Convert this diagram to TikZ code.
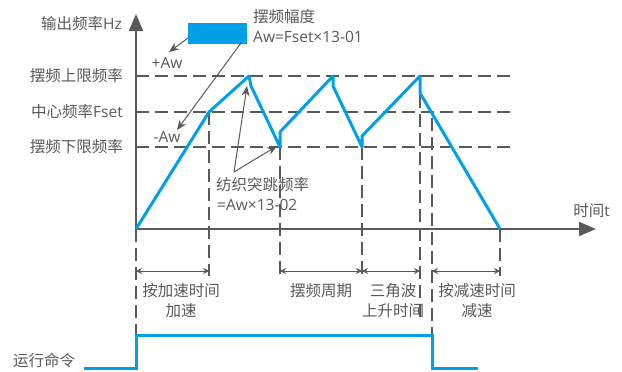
\documentclass[tikz,border=0pt]{standalone}
\usepackage{fontspec}
\setmainfont{Noto Sans CJK SC}
\newfontfamily\lat{Open Sans}
\usetikzlibrary{arrows.meta}
\definecolor{gr}{HTML}{595959}
\definecolor{bl}{HTML}{00A0E9}
\begin{document}
\begin{tikzpicture}[x=1pt,y=-1pt,
  every node/.style={font=\fontsize{15.5}{18}\selectfont, text=gr, inner sep=0pt},
  grid/.style={draw=gr, line width=2pt, dash pattern=on 13pt off 6pt},
  wave/.style={draw=bl, line width=3pt, line join=round},
  axis/.style={draw=gr, line width=2pt, -{Triangle[length=17pt,width=14pt]}},
  ptr/.style={draw=gr, line width=1pt, -{Stealth[length=10pt,width=8pt]}},
  dim/.style={draw=gr, line width=1pt, {Stealth[length=6pt,width=6pt]}-{Stealth[length=6pt,width=6pt]}},
]
\useasboundingbox (0,0) rectangle (622,372);

% grid lines
\coordinate (hu0) at (136,76);  \coordinate (hu1) at (510,76);
\coordinate (hc0) at (136,112); \coordinate (hc1) at (510,112);
\coordinate (hl0) at (136,147); \coordinate (hl1) at (510,147);
\draw[grid] (hu0) -- (hu1);
\draw[grid] (hc0) -- (hc1);
\draw[grid] (hl0) -- (hl1);

\coordinate (v0a) at (136,229); \coordinate (v0b) at (136,335);
\coordinate (v1a) at (209,112); \coordinate (v1b) at (209,276);
\coordinate (v2a) at (280,147); \coordinate (v2b) at (280,276);
\coordinate (v3a) at (362,147); \coordinate (v3b) at (362,276);
\coordinate (v4a) at (420,76);  \coordinate (v4b) at (420,320);
\coordinate (v5a) at (432,118); \coordinate (v5b) at (432,368);
\coordinate (v6a) at (500,229); \coordinate (v6b) at (500,276);
\foreach \i in {0,...,6} {\draw[grid] (v\i a) -- (v\i b);}

% axes
\coordinate (O) at (136,229);
\coordinate (Ytop) at (136,14);
\coordinate (Xend) at (596,229);
\draw[axis] (O) -- (Ytop);
\draw[axis] (O) -- (Xend);
\node[anchor=east] (ylab) at (122,24) {输出频率{\lat Hz}};
\node[anchor=east] (xlab) at (610,211) {时间{\lat t}};

% level labels
\node[anchor=east] (lup) at (123,76) {摆频上限频率};
\node[anchor=east] (lmid) at (123,112) {中心频率{\lat Fset}};
\node[anchor=east] (llow) at (123,147) {摆频下限频率};

% waveform
\coordinate (p1) at (209,112);
\coordinate (p2) at (249,76);
\coordinate (p3) at (251,86);
\coordinate (p4) at (280,147);
\coordinate (p5) at (280,132);
\coordinate (p6) at (333,76);
\coordinate (p7) at (333,86);
\coordinate (p8) at (362,147);
\coordinate (p9) at (362,136);
\coordinate (p10) at (420,76);
\coordinate (p11) at (420,93);
\coordinate (p12) at (500,229);
\draw[wave] (O) -- (p1) -- (p2) -- (p3) -- (p4) -- (p5) -- (p6) -- (p7) -- (p8) -- (p9) -- (p10) -- (p11) -- (p12);

% amplitude box
\fill[bl] (188,23) rectangle (247,44);
\coordinate (bx1) at (188,38);
\coordinate (bx2) at (241,43);
\node[anchor=west] (amp1) at (253,17) {摆频幅度};
\node[anchor=west] (amp2) at (253,37) {\lat Aw=Fset×13-01};
\node (pAw) at (167,63) {\lat +Aw};
\node (mAw) at (167,137) {\lat -Aw};
\coordinate (pAwT) at (169,52);
\coordinate (mAwT) at (177,130);
\draw[ptr] (bx1) -- (pAwT);
\draw[ptr] (bx2) -- (mAwT);

% jump label
\node[anchor=west] (jmp1) at (216,185) {纺织突跳频率};
\node[anchor=west] (jmp2) at (217,205) {\lat =Aw×13-02};
\coordinate (js) at (234,172);
\coordinate (jt1) at (247,86);
\coordinate (jt2) at (277,146);
\draw[ptr] (js) -- (jt1);
\draw[ptr] (js) -- (jt2);

% dimensions
\coordinate (d0) at (136,271); \coordinate (d1) at (209,271);
\coordinate (d2) at (280,271); \coordinate (d3) at (362,271);
\coordinate (d4) at (420,271);
\coordinate (d5) at (432,271); \coordinate (d6) at (500,271);
\draw[dim] (d0) -- (d1);
\draw[dim] (d2) -- (d3);
\draw[dim] (d3) -- (d4);
\draw[dim] (d5) -- (d6);
\node (t1a) at (181,291) {按加速时间};
\node (t1b) at (181,311) {加速};
\node (t2a) at (321,291) {摆频周期};
\node (t3a) at (393,291) {三角波};
\node (t3b) at (393,311) {上升时间};
\node (t4a) at (477,291) {按减速时间};
\node (t4b) at (477,311) {减速};

% run command
\node[anchor=west] (run) at (13,361) {运行命令};
\coordinate (r0) at (84,368);
\coordinate (r1) at (136,368);
\coordinate (r2) at (136,335);
\coordinate (r3) at (432,335);
\coordinate (r4) at (432,368);
\coordinate (r5) at (478,368);
\draw[wave, line join=miter] (r0) -- (r1) -- (r2) -- (r3) -- (r4) -- (r5);
\end{tikzpicture}
\end{document}
